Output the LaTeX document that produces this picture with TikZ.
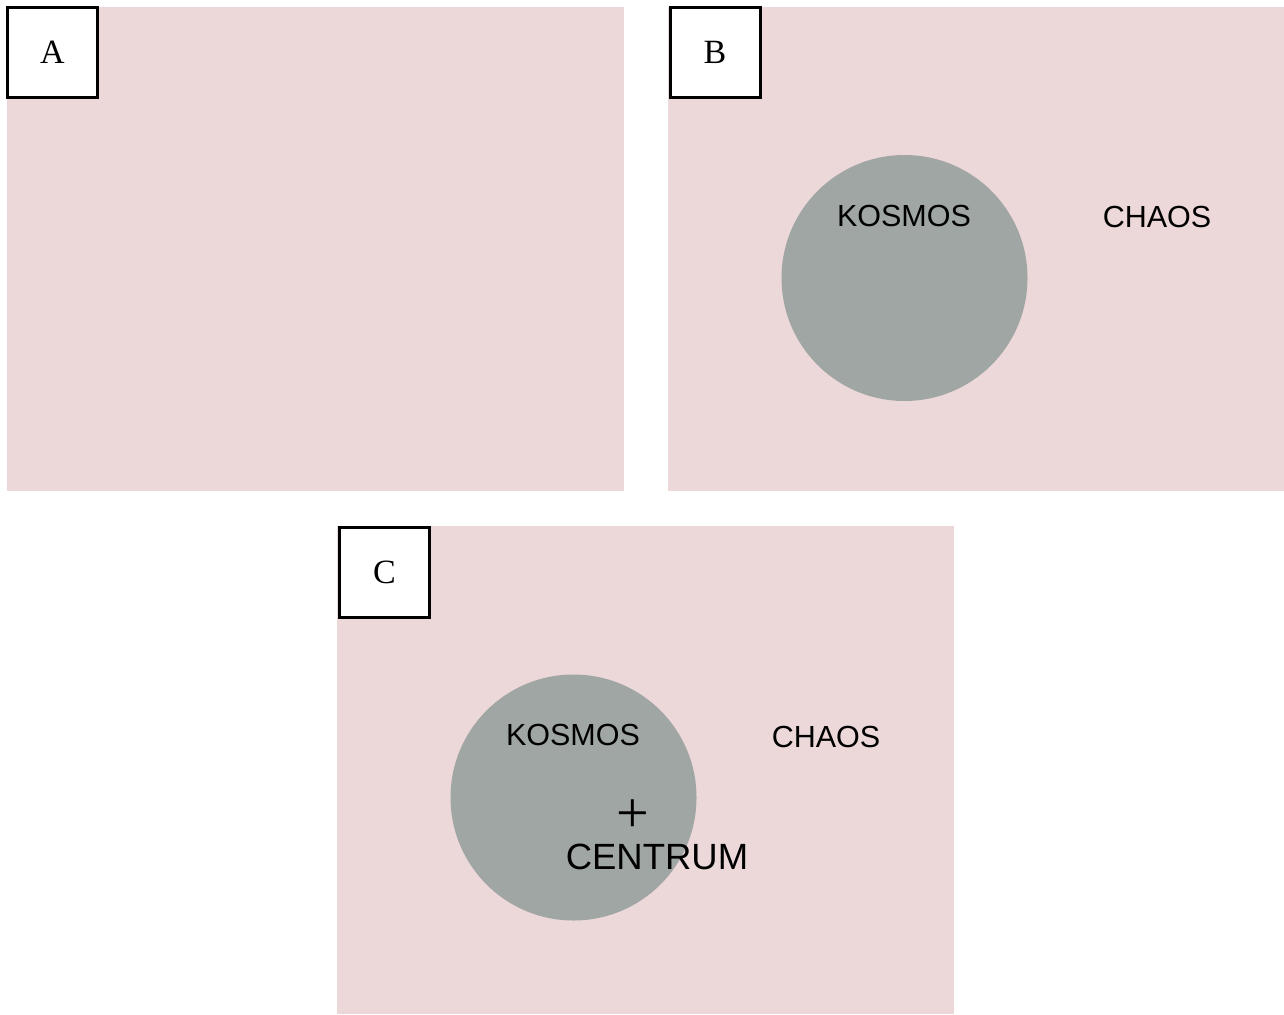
\documentclass[tikz,border=0pt]{standalone}
\usepackage{fontspec}
\setmainfont{Liberation Serif}
\newfontfamily\arialfont{Liberation Sans}
\definecolor{pinkbg}{RGB}{237,216,217}
\definecolor{kgray}{RGB}{160,166,164}
\begin{document}
\begin{tikzpicture}[x=1pt,y=-1pt,
  panel/.style={fill=pinkbg},
  kosmoscircle/.style={circle,fill=kgray,minimum size=246pt,inner sep=0pt},
  labelbox/.style={draw=black,line width=3pt,fill=white,minimum size=90pt,inner sep=0pt,font=\fontsize{34}{37}\selectfont},
  word/.style={inner sep=0pt,font=\arialfont\fontsize{30.5}{34}\selectfont},
  bigword/.style={inner sep=0pt,font=\arialfont\fontsize{36.5}{40}\selectfont}]
\useasboundingbox (0,0) rectangle (1284,1014);
% panels
\fill[panel] (7,7) rectangle (624,491);
\fill[panel] (668,7) rectangle (1284,491);
\fill[panel] (337,526) rectangle (954,1014);
% panel A
\node[labelbox] (la) at (52.5,52.5) {A};
% panel B
\node[kosmoscircle] (cb) at (904.5,278) {};
\node[labelbox] (lb) at (715,52.5) {B};
\node[word] (kb) at (904,216) {KOSMOS};
\node[word] (chb) at (1157,217) {CHAOS};
% panel C
\node[kosmoscircle] (cc) at (573.5,797.5) {};
\node[labelbox] (lc) at (384.5,572.5) {C};
\node[word] (kc) at (573,735) {KOSMOS};
\node[word] (chc) at (826,737) {CHAOS};
\node[inner sep=0pt,anchor=base,font=\fontsize{58}{62}\selectfont] (plus) at (633,832) {+};
\node[bigword] (cent) at (657,857) {CENTRUM};
\end{tikzpicture}
\end{document}
